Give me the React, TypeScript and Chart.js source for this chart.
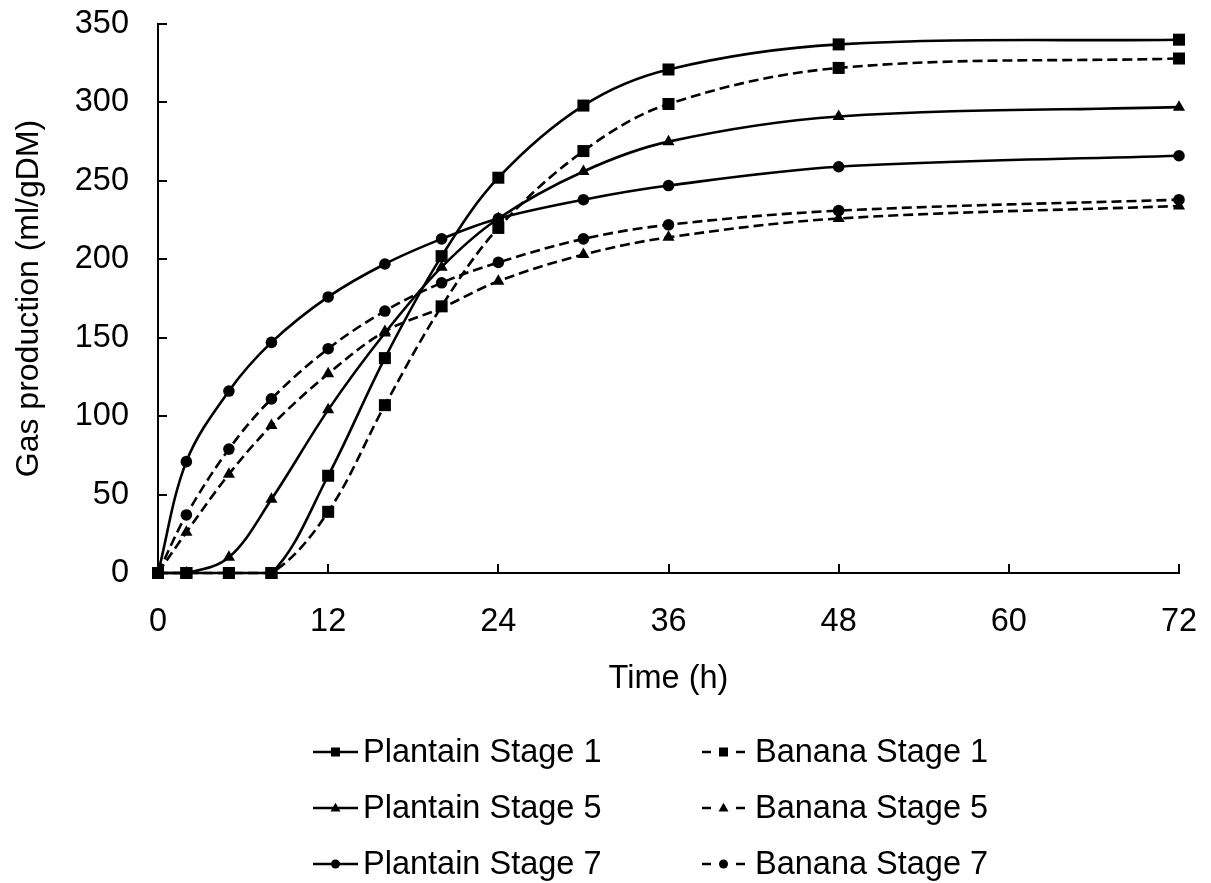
import React, { useEffect, useRef } from 'react';
import { Chart, registerables } from 'chart.js';

Chart.register(...registerables);

const timeHours = [0, 2, 5, 8, 12, 16, 20, 24, 30, 36, 48, 72];
const xTickValues = [0, 12, 24, 36, 48, 60, 72];
const yTickValues = [0, 50, 100, 150, 200, 250, 300, 350];

const seriesNames = [
  'Plantain Stage 1',
  'Banana Stage 1',
  'Plantain Stage 5',
  'Banana Stage 5',
  'Plantain Stage 7',
  'Banana Stage 7',
];

const plantainStage1 = [0, 0, 0, 0, 62, 137, 202, 252, 298, 321, 337, 340];
const bananaStage1 = [0, 0, 0, 0, 39, 107, 170, 220, 269, 299, 322, 328];
const plantainStage5 = [0, 0, 10, 47, 104, 153, 195, 226, 256, 275, 291, 297];
const bananaStage5 = [0, 26, 63, 94, 127, 154, 169, 186, 203, 214, 226, 234];
const plantainStage7 = [0, 71, 116, 147, 176, 197, 213, 226, 238, 247, 259, 266];
const bananaStage7 = [0, 37, 79, 111, 143, 167, 185, 198, 213, 222, 231, 238];

const seriesValues = [plantainStage1, bananaStage1, plantainStage5, bananaStage5, plantainStage7, bananaStage7];
const seriesMarkers = ['rect', 'rect', 'triangle', 'triangle', 'circle', 'circle'];
const seriesDashed = [false, true, false, true, false, true];

const FONT = '"Liberation Sans", Arial, sans-serif';
const FONT_SIZE = 32.5;
const TITLE_SIZE = 32;
const DASH = [10, 5];

function markerRadius(style: string) {
  if (style === 'rect') return 8.5;
  if (style === 'triangle') return 7;
  return 5.8;
}

function drawMarker(ctx: CanvasRenderingContext2D, style: string, x: number, y: number, size: number) {
  ctx.beginPath();
  if (style === 'rect') {
    ctx.rect(x - size / 2, y - size / 2, size, size);
  } else if (style === 'triangle') {
    const h = size * 0.87;
    ctx.moveTo(x, y - h * 0.6);
    ctx.lineTo(x + size / 2, y + h * 0.4);
    ctx.lineTo(x - size / 2, y + h * 0.4);
    ctx.closePath();
  } else {
    ctx.arc(x, y, size / 2, 0, Math.PI * 2);
  }
  ctx.fill();
}

const innerTicksPlugin = {
  id: 'innerTicks',
  afterDatasetsDraw(chart: any) {
    const { ctx, chartArea, scales } = chart;
    ctx.save();
    ctx.strokeStyle = '#000';
    ctx.lineWidth = 2;
    ctx.beginPath();
    yTickValues.forEach((v) => {
      const y = Math.round(scales.y.getPixelForValue(v));
      ctx.moveTo(chartArea.left, y);
      ctx.lineTo(chartArea.left + 9, y);
    });
    xTickValues.forEach((v) => {
      const x = Math.round(scales.x.getPixelForValue(v));
      ctx.moveTo(x, chartArea.bottom);
      ctx.lineTo(x, chartArea.bottom - 9);
    });
    ctx.stroke();
    ctx.restore();
  },
};

const bottomLegendPlugin = {
  id: 'bottomLegend',
  afterDraw(chart: any) {
    const ctx: CanvasRenderingContext2D = chart.ctx;
    const rowY = [752, 808, 864];
    const colLineStart = [313, 702];
    const colLineEnd = [358, 745];
    const colText = [363, 755];
    ctx.save();
    chart.data.datasets.forEach((ds: any, i: number) => {
      const col = i % 2;
      const row = Math.floor(i / 2);
      const y = rowY[row];
      const x0 = colLineStart[col];
      const x1 = colLineEnd[col];
      ctx.strokeStyle = '#000';
      ctx.fillStyle = '#000';
      ctx.lineWidth = 2.5;
      ctx.setLineDash([]);
      ctx.beginPath();
      if (seriesDashed[i]) {
        ctx.moveTo(x0, y);
        ctx.lineTo(x0 + 9, y);
        ctx.moveTo(x1 - 9, y);
        ctx.lineTo(x1, y);
      } else {
        ctx.moveTo(x0, y);
        ctx.lineTo(x1, y);
      }
      ctx.stroke();
      drawMarker(ctx, seriesMarkers[i], (x0 + x1) / 2, y, seriesMarkers[i] === 'triangle' ? 10 : 9);
      ctx.font = `${FONT_SIZE}px ${FONT}`;
      ctx.textBaseline = 'middle';
      ctx.textAlign = 'left';
      ctx.fillText(ds.label, colText[col], y + 1);
    });
    ctx.restore();
  },
};

export default function App() {
  const canvasRef = useRef<HTMLCanvasElement | null>(null);

  useEffect(() => {
    if (!canvasRef.current) return;
    const datasets = seriesNames.map((name, i) => ({
      label: name,
      data: timeHours.map((t, j) => ({ x: t, y: seriesValues[i][j] })),
      borderColor: '#000',
      backgroundColor: '#000',
      borderWidth: 2.6,
      borderDash: seriesDashed[i] ? DASH : [],
      pointStyle: seriesMarkers[i],
      pointRadius: markerRadius(seriesMarkers[i]),
      pointBorderWidth: 0,
      pointBackgroundColor: '#000',
      tension: 0.35,
      clip: false,
      fill: false,
    }));

    const chart = new Chart(canvasRef.current, {
      type: 'line',
      data: { datasets },
      options: {
        animation: false,
        responsive: false,
        devicePixelRatio: 1,
        layout: { padding: { left: 10, top: 24, right: 32, bottom: 184 } },
        plugins: {
          legend: { display: false },
          tooltip: { enabled: false },
        },
        scales: {
          x: {
            type: 'linear',
            min: 0,
            max: 72,
            afterFit: (scale: any) => {
              scale.height = 126;
              scale.paddingLeft = 0;
              scale.paddingRight = 0;
            },
            afterBuildTicks: (scale: any) => {
              scale.ticks = xTickValues.map((v) => ({ value: v }));
            },
            grid: { display: false, drawTicks: false },
            border: { display: true, color: '#000', width: 2 },
            ticks: {
              color: '#000',
              padding: 30,
              maxRotation: 0,
              font: { family: FONT, size: FONT_SIZE },
            },
            title: {
              display: true,
              text: 'Time (h)',
              color: '#000',
              padding: 0,
              font: { family: FONT, size: FONT_SIZE },
            },
          },
          y: {
            type: 'linear',
            min: 0,
            max: 350,
            afterFit: (scale: any) => {
              scale.width = 148;
              scale.paddingTop = 0;
              scale.paddingBottom = 0;
            },
            afterBuildTicks: (scale: any) => {
              scale.ticks = yTickValues.map((v) => ({ value: v }));
            },
            grid: { display: false, drawTicks: false },
            border: { display: true, color: '#000', width: 2 },
            ticks: {
              color: '#000',
              padding: 29,
              font: { family: FONT, size: FONT_SIZE },
            },
            title: {
              display: true,
              text: 'Gas production (ml/gDM)',
              color: '#000',
              padding: 0,
              font: { family: FONT, size: TITLE_SIZE },
            },
          },
        },
      },
      plugins: [innerTicksPlugin, bottomLegendPlugin],
    });
    return () => chart.destroy();
  }, []);

  return (
    <div style={{ position: 'fixed', left: 0, top: 0, width: 1211, height: 883, background: '#fff' }}>
      <canvas ref={canvasRef} width={1211} height={883} style={{ width: 1211, height: 883, display: 'block' }} />
    </div>
  );
}
